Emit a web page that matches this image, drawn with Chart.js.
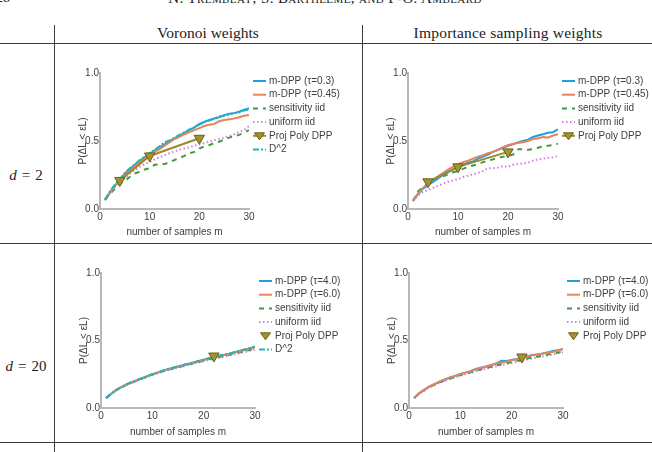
<!DOCTYPE html>
<html>
<head>
<meta charset="utf-8">
<script src="https://cdn.jsdelivr.net/npm/chart.js@4.4.1/dist/chart.umd.min.js"></script>
<style>
  html, body { margin: 0; padding: 0; background: #fff; }
  #page { position: relative; width: 652px; height: 452px; overflow: hidden; font-family: "Liberation Serif", "DejaVu Serif", serif; color: #222; }
  .hl { position: absolute; left: 0; width: 652px; height: 1px; background: #3a3a3a; }
  .vl { position: absolute; top: 25px; height: 430px; width: 1px; background: #3a3a3a; }
  .tx { position: absolute; white-space: nowrap; text-align: center; }
  canvas { position: absolute; }
</style>
</head>
<body>
<div id="page">
  <div class="tx" style="left:-4px;top:-10px;font-size:14px;line-height:16px;text-align:left">28</div>
  <div class="tx" style="left:125px;top:-10px;width:400px;font-size:15px;line-height:16px;font-variant:small-caps;letter-spacing:0.4px">N. Tremblay, S. Barthelme, and P-O. Amblard</div>

  <div class="tx" style="left:108px;top:25px;width:200px;font-size:15.5px;line-height:16px">Voronoi weights</div>
  <div class="tx" style="left:358px;top:25px;width:300px;font-size:15.5px;line-height:16px;letter-spacing:0.2px">Importance sampling weights</div>

  <div class="tx" style="left:0;top:167px;width:52px;font-size:15px;line-height:16px"><i>d</i><span style="margin:0 5px">=</span>2</div>
  <div class="tx" style="left:0;top:358px;width:52px;font-size:15px;line-height:16px"><i>d</i><span style="margin:0 5px">=</span>20</div>

  <div class="hl" style="top:43px"></div>
  <div class="hl" style="top:243px"></div>
  <div class="hl" style="top:442px"></div>
  <div class="vl" style="left:54px"></div>
  <div class="vl" style="left:362px"></div>

  <canvas id="vorD2" width="300" height="185" style="left:58px;top:55px"></canvas>
  <canvas id="isD2" width="286" height="185" style="left:366px;top:55px"></canvas>
  <canvas id="vorD20" width="293" height="185" style="left:59px;top:255px"></canvas>
  <canvas id="isD20" width="285" height="185" style="left:367px;top:255px"></canvas>
</div>

<script>
// number of samples m
var mValues = [1,2,3,4,5,6,7,8,9,10,11,12,13,14,15,16,17,18,19,20,21,22,23,24,25,26,27,28,29,30];
var projM   = [4, 10, 20];
var projM20 = [22];
var xTicks  = [0, 10, 20, 30];
var yTicks  = [0.0, 0.5, 1.0];

// Voronoi weights, d = 2
var vorD2Tau03  = [0.066,0.12,0.17,0.215,0.26,0.295,0.325,0.355,0.38,0.405,0.43,0.455,0.475,0.50,0.52,0.54,0.56,0.58,0.60,0.625,0.64,0.655,0.665,0.675,0.69,0.70,0.705,0.715,0.73,0.74];
var vorD2Tau045 = [0.066,0.12,0.17,0.21,0.25,0.285,0.315,0.345,0.37,0.395,0.42,0.44,0.465,0.49,0.515,0.53,0.55,0.565,0.58,0.595,0.61,0.62,0.625,0.645,0.655,0.66,0.665,0.675,0.685,0.69];
var vorD2Sens   = [0.066,0.11,0.15,0.185,0.21,0.235,0.26,0.275,0.29,0.30,0.325,0.33,0.33,0.345,0.36,0.375,0.39,0.41,0.42,0.445,0.46,0.47,0.485,0.495,0.51,0.525,0.535,0.545,0.56,0.58];
var vorD2Unif   = [0.066,0.12,0.16,0.20,0.23,0.26,0.285,0.31,0.33,0.345,0.365,0.38,0.395,0.41,0.425,0.435,0.445,0.455,0.465,0.475,0.485,0.495,0.505,0.515,0.525,0.535,0.55,0.565,0.58,0.61];
var vorD2D2     = [0.07,0.13,0.18,0.22,0.265,0.30,0.33,0.36,0.385,0.415,0.435,0.46,0.49,0.505,0.525,0.545,0.565,0.585,0.60,0.62,0.64,0.65,0.665,0.68,0.685,0.695,0.705,0.71,0.725,0.73];
var vorD2Proj   = [0.21, 0.39, 0.52];

// Importance sampling weights, d = 2
var isD2Tau03  = [0.06,0.11,0.15,0.175,0.20,0.225,0.25,0.27,0.29,0.31,0.325,0.34,0.35,0.37,0.385,0.40,0.42,0.435,0.45,0.465,0.475,0.49,0.50,0.51,0.53,0.54,0.55,0.56,0.565,0.585];
var isD2Tau045 = [0.06,0.115,0.155,0.19,0.215,0.24,0.265,0.29,0.31,0.33,0.345,0.355,0.37,0.385,0.395,0.41,0.42,0.435,0.455,0.47,0.48,0.485,0.49,0.50,0.515,0.52,0.53,0.525,0.54,0.55];
var isD2Sens   = [0.06,0.13,0.16,0.185,0.205,0.225,0.24,0.255,0.27,0.28,0.295,0.31,0.32,0.33,0.345,0.355,0.365,0.375,0.385,0.39,0.40,0.44,0.44,0.435,0.44,0.45,0.46,0.465,0.47,0.48];
var isD2Unif   = [0.06,0.10,0.125,0.14,0.155,0.17,0.185,0.20,0.21,0.22,0.235,0.245,0.255,0.265,0.28,0.30,0.30,0.305,0.315,0.31,0.325,0.33,0.335,0.34,0.355,0.365,0.37,0.375,0.38,0.39];
var isD2Proj   = [0.20, 0.31, 0.42];

// Voronoi weights, d = 20
var vorD20Tau4 = [0.075,0.105,0.135,0.155,0.175,0.19,0.205,0.22,0.235,0.25,0.262,0.275,0.287,0.297,0.307,0.317,0.327,0.337,0.347,0.357,0.367,0.377,0.386,0.393,0.402,0.412,0.422,0.432,0.442,0.452];
var vorD20Tau6 = [0.075,0.106,0.134,0.156,0.174,0.191,0.206,0.221,0.234,0.249,0.261,0.274,0.286,0.296,0.306,0.316,0.326,0.336,0.346,0.356,0.366,0.376,0.385,0.392,0.401,0.411,0.421,0.431,0.441,0.45];
var vorD20Sens = [0.074,0.104,0.133,0.153,0.173,0.188,0.203,0.218,0.232,0.247,0.258,0.271,0.282,0.292,0.302,0.311,0.321,0.331,0.341,0.35,0.36,0.369,0.378,0.386,0.394,0.403,0.413,0.422,0.431,0.44];
var vorD20Unif = [0.074,0.104,0.132,0.153,0.172,0.187,0.202,0.217,0.231,0.246,0.257,0.27,0.28,0.29,0.3,0.309,0.319,0.328,0.337,0.346,0.355,0.364,0.372,0.38,0.388,0.397,0.406,0.414,0.423,0.432];
var vorD20D2   = [0.075,0.106,0.135,0.156,0.176,0.192,0.206,0.222,0.236,0.251,0.263,0.276,0.288,0.298,0.308,0.318,0.328,0.338,0.348,0.358,0.368,0.378,0.387,0.395,0.404,0.414,0.424,0.434,0.444,0.455];
var vorD20Proj = [0.385];

// Importance sampling weights, d = 20
var isD20Tau4 = [0.075,0.11,0.135,0.16,0.177,0.196,0.211,0.226,0.237,0.252,0.262,0.272,0.289,0.299,0.308,0.318,0.329,0.35,0.349,0.355,0.363,0.372,0.382,0.392,0.397,0.403,0.412,0.423,0.427,0.437];
var isD20Tau6 = [0.075,0.11,0.136,0.161,0.178,0.197,0.212,0.227,0.237,0.251,0.262,0.272,0.286,0.297,0.307,0.317,0.327,0.337,0.343,0.353,0.362,0.372,0.381,0.39,0.396,0.402,0.411,0.415,0.426,0.437];
var isD20Sens = [0.074,0.108,0.133,0.157,0.173,0.191,0.205,0.219,0.23,0.244,0.254,0.264,0.276,0.286,0.296,0.305,0.315,0.324,0.331,0.34,0.349,0.357,0.366,0.374,0.381,0.388,0.396,0.402,0.41,0.42];
var isD20Unif = [0.073,0.106,0.13,0.154,0.17,0.187,0.201,0.215,0.226,0.24,0.25,0.26,0.272,0.281,0.291,0.3,0.309,0.318,0.326,0.334,0.343,0.351,0.359,0.367,0.374,0.381,0.389,0.396,0.404,0.413];
var isD20Proj = [0.378];

var FONT = '"Liberation Sans", Arial, sans-serif';
var FS   = 10;
var TXT  = '#3e3e3e';
var AXIS = '#b8b8b8';

var C_BLUE = '#1f9ee0', C_ORANGE = '#e8825f', C_GREEN = '#3f9a45',
    C_PINK = '#cf7fe0', C_OLIVE = '#9a8a2c', C_TEAL = '#25b4b4';

Chart.defaults.font.family = FONT;
Chart.defaults.font.size = FS;
Chart.defaults.color = TXT;

function pts(xs, ys) {
    return xs.map(function (x, i) { return { x: x, y: ys[i] }; });
}

function lineSet(label, ys, color, dash, order) {
    return {
        label: label,
        data: pts(mValues, ys),
        borderColor: color,
        backgroundColor: color,
        borderWidth: 2,
        borderDash: dash,
        pointRadius: 0,
        tension: 0,
        fill: false,
        order: order
    };
}

function projSet(xs, ys, showLine) {
    return {
        label: 'Proj Poly DPP',
        data: pts(xs, ys),
        borderColor: C_OLIVE,
        backgroundColor: C_OLIVE,
        borderWidth: 2,
        pointStyle: 'triangle',
        rotation: 180,
        pointRadius: 6,
        pointBackgroundColor: '#a39231',
        pointBorderColor: '#6d6015',
        pointBorderWidth: 1,
        showLine: showLine,
        order: 0
    };
}

/* legend drawn next to the plot area */
var sideLegend = {
    id: 'sideLegend',
    afterDraw: function (chart) {
        var o = chart.options.plugins.sideLegend;
        if (!o || !o.items) return;
        var ctx = chart.ctx, area = chart.chartArea;
        var x0 = area.right + o.dx, y = area.top + o.dy;
        ctx.save();
        ctx.font = FS + 'px ' + FONT;
        ctx.textBaseline = 'middle';
        o.items.forEach(function (it) {
            var ds = chart.data.datasets[it.index];
            if (it.line) {
                ctx.beginPath();
                ctx.setLineDash(ds.borderDash || []);
                ctx.strokeStyle = ds.borderColor;
                ctx.lineWidth = 2;
                ctx.moveTo(x0, y);
                ctx.lineTo(x0 + o.len, y);
                ctx.stroke();
                ctx.setLineDash([]);
            }
            if (it.marker) {
                var cx = x0 + o.len / 2;
                ctx.beginPath();
                ctx.moveTo(cx - 5, y - 3);
                ctx.lineTo(cx + 5, y - 3);
                ctx.lineTo(cx, y + 4);
                ctx.closePath();
                ctx.fillStyle = '#a39231';
                ctx.fill();
                ctx.lineWidth = 1;
                ctx.strokeStyle = '#6d6015';
                ctx.stroke();
            }
            ctx.fillStyle = TXT;
            ctx.fillText(ds.label, x0 + o.len + 3, y);
            y += o.step;
        });
        ctx.restore();
    }
};

function makePanel(id, datasets, padRight, xHeight, legendItems) {
    new Chart(document.getElementById(id), {
        type: 'line',
        data: { datasets: datasets },
        options: {
            responsive: false,
            animation: false,
            devicePixelRatio: 1,
            layout: { padding: { left: 0, top: 18, right: padRight, bottom: 0 } },
            plugins: {
                legend: { display: false },
                tooltip: { enabled: false },
                sideLegend: { items: legendItems, dx: 4, dy: 8, len: 13, step: 13.7 }
            },
            scales: {
                x: {
                    type: 'linear', min: 0, max: 30,
                    afterBuildTicks: function (s) { s.ticks = xTicks.map(function (v) { return { value: v }; }); },
                    ticks: { padding: 2, color: TXT, font: { size: FS } },
                    grid: { display: false, drawTicks: false },
                    border: { display: true, color: AXIS, width: 2 },
                    title: { display: true, text: 'number of samples m', color: TXT, font: { size: FS }, padding: { top: 0, bottom: 2 } },
                    afterFit: function (s) { s.height = xHeight; }
                },
                y: {
                    min: 0, max: 1,
                    afterBuildTicks: function (s) { s.ticks = yTicks.map(function (v) { return { value: v }; }); },
                    ticks: { padding: 1, color: TXT, font: { size: FS }, callback: function (v) { return v.toFixed(1); } },
                    grid: { display: false, drawTicks: false },
                    border: { display: true, color: AXIS, width: 2 },
                    title: { display: true, text: 'P(\u0394L < \u03B5L)', color: TXT, font: { size: FS }, padding: { top: 19, bottom: 0 } },
                    afterFit: function (s) { s.width = 42; }
                }
            }
        },
        plugins: [sideLegend]
    });
}

document.addEventListener('DOMContentLoaded', function () {

    /* ── Voronoi, d = 2 ── */
    makePanel('vorD2', [
        lineSet('m-DPP (\u03C4=0.3)',  vorD2Tau03,  C_BLUE,   [], 3),
        lineSet('m-DPP (\u03C4=0.45)', vorD2Tau045, C_ORANGE, [], 2),
        lineSet('sensitivity iid',     vorD2Sens,   C_GREEN,  [5, 5], 4),
        lineSet('uniform iid',         vorD2Unif,   C_PINK,   [1.5, 2.5], 5),
        projSet(projM, vorD2Proj, true),
        lineSet('D^2',                 vorD2D2,     C_TEAL,   [6, 2, 2, 2], 1)
    ], 109, 31, [
        { index: 0, line: true }, { index: 1, line: true }, { index: 2, line: true },
        { index: 3, line: true }, { index: 4, line: true, marker: true }, { index: 5, line: true }
    ]);

    /* ── Importance sampling, d = 2 ── */
    makePanel('isD2', [
        lineSet('m-DPP (\u03C4=0.3)',  isD2Tau03,  C_BLUE,   [], 3),
        lineSet('m-DPP (\u03C4=0.45)', isD2Tau045, C_ORANGE, [], 2),
        lineSet('sensitivity iid',     isD2Sens,   C_GREEN,  [5, 5], 4),
        lineSet('uniform iid',         isD2Unif,   C_PINK,   [1.5, 2.5], 5),
        projSet(projM, isD2Proj, true)
    ], 94, 31, [
        { index: 0, line: true }, { index: 1, line: true }, { index: 2, line: true },
        { index: 3, line: true }, { index: 4, line: true, marker: true }
    ]);

    /* ── Voronoi, d = 20 ── */
    makePanel('vorD20', [
        lineSet('m-DPP (\u03C4=4.0)', vorD20Tau4, C_BLUE,   [], 3),
        lineSet('m-DPP (\u03C4=6.0)', vorD20Tau6, C_ORANGE, [], 2),
        lineSet('sensitivity iid',    vorD20Sens, C_GREEN,  [5, 5], 4),
        lineSet('uniform iid',        vorD20Unif, C_PINK,   [1.5, 2.5], 5),
        projSet(projM20, vorD20Proj, false),
        lineSet('D^2',                vorD20D2,   C_TEAL,   [6, 2, 2, 2], 1)
    ], 97, 32, [
        { index: 0, line: true }, { index: 1, line: true }, { index: 2, line: true },
        { index: 3, line: true }, { index: 4, marker: true }, { index: 5, line: true }
    ]);

    /* ── Importance sampling, d = 20 ── */
    makePanel('isD20', [
        lineSet('m-DPP (\u03C4=4.0)', isD20Tau4, C_BLUE,   [], 2),
        lineSet('m-DPP (\u03C4=6.0)', isD20Tau6, C_ORANGE, [], 1),
        lineSet('sensitivity iid',    isD20Sens, C_GREEN,  [5, 5], 3),
        lineSet('uniform iid',        isD20Unif, C_PINK,   [1.5, 2.5], 4),
        projSet(projM20, isD20Proj, false)
    ], 89, 32, [
        { index: 0, line: true }, { index: 1, line: true }, { index: 2, line: true },
        { index: 3, line: true }, { index: 4, marker: true }
    ]);
});
</script>
</body>
</html>
